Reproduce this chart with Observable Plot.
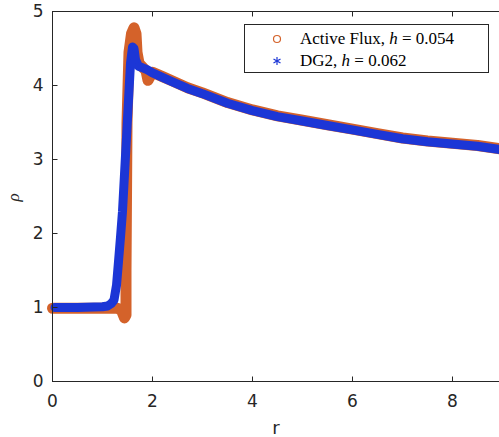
<!DOCTYPE html>
<html><head><meta charset="utf-8">
<script src="https://cdn.jsdelivr.net/npm/d3@7"></script>
<script src="https://cdn.jsdelivr.net/npm/@observablehq/plot@0.6"></script>
<style>
html,body{margin:0;padding:0;overflow:hidden;background:#fff;}
#wrap{position:relative;width:499px;height:437px;overflow:hidden;}
#legend{position:absolute;left:244px;top:24px;width:243px;height:47px;border:1px solid #262626;background:#fff;font-family:"Liberation Serif","DejaVu Serif",serif;font-size:17px;color:#000;}
.row{position:absolute;left:0;height:20px;display:flex;align-items:center;white-space:nowrap;}
.row svg{margin-left:27px;margin-right:18px;}
</style></head><body><div id="wrap"><div id="chart"></div><div id="legend"></div></div>
<script>
const xTicks = [0, 2, 4, 6, 8];
const yTicks = [0, 1, 2, 3, 4, 5];

// Active Flux, h = 0.054
const afR   = [0, 0.5, 1.0, 1.3, 1.38, 1.44, 1.47, 1.47, 1.49, 1.53, 1.58, 1.63, 1.67, 1.69, 1.73, 1.8, 1.87, 1.91, 1.95, 2.0, 2.2, 2.4, 2.7, 3.0, 3.5, 4.0, 4.5, 5.0, 5.5, 6.0, 6.5, 7.0, 7.5, 8.0, 8.5, 9.0];
const afRho = [0.99, 0.99, 0.99, 0.99, 0.96, 0.86, 0.9, 1.5, 3.5, 4.45, 4.7, 4.78, 4.7, 4.45, 4.3, 4.25, 4.2, 4.07, 4.12, 4.18, 4.12, 4.06, 3.97, 3.9, 3.77, 3.67, 3.59, 3.53, 3.47, 3.41, 3.35, 3.29, 3.25, 3.22, 3.19, 3.14];

// DG2, h = 0.062
const dgR   = [0.05, 0.5, 1.0, 1.1, 1.17, 1.23, 1.28, 1.32, 1.36, 1.4, 1.44, 1.48, 1.52, 1.56, 1.6, 1.63, 1.66, 1.72, 1.8, 1.9, 2.0, 2.2, 2.4, 2.7, 3.0, 3.5, 4.0, 4.5, 5.0, 5.5, 6.0, 6.5, 7.0, 7.5, 8.0, 8.5, 9.0];
const dgRho = [1, 1, 1.01, 1.02, 1.05, 1.1, 1.3, 1.62, 1.95, 2.3, 2.8, 3.3, 3.8, 4.3, 4.52, 4.5, 4.35, 4.26, 4.24, 4.21, 4.17, 4.11, 4.05, 3.96, 3.89, 3.76, 3.66, 3.58, 3.52, 3.46, 3.4, 3.34, 3.28, 3.24, 3.21, 3.18, 3.13];

const orange = "#d4622a";
const blue = "#1c36d6";
const ink = "#262626";

const af = afR.map((r, i) => ({r, rho: afRho[i]}));
const dg = dgR.map((r, i) => ({r, rho: dgRho[i]}));

const plot = Plot.plot({
  width: 499, height: 437,
  marginLeft: 52, marginTop: 11, marginBottom: 56, marginRight: 0,
  x: {domain: [0, 9], range: [52, 502]},
  y: {domain: [0, 5]},
  style: {fontFamily: "DejaVu Sans", fontSize: "17px", color: ink, background: "transparent"},
  marks: [
    Plot.line(af, {x: "r", y: "rho", stroke: orange, strokeWidth: 11, strokeLinejoin: "round", strokeLinecap: "round"}),
    Plot.dot(af, {x: "r", y: "rho", r: 3.5, stroke: orange, fill: "none", strokeWidth: 1}),
    Plot.line(dg, {x: "r", y: "rho", stroke: blue, strokeWidth: 9, strokeLinejoin: "round", strokeLinecap: "round"}),
    Plot.dot(dg, {x: "r", y: "rho", r: 3.5, symbol: "asterisk", stroke: blue, strokeWidth: 1}),
    Plot.ruleX([0], {stroke: ink}),
    Plot.ruleY([0, 5], {stroke: ink}),
    Plot.axisX({ticks: xTicks, tickFormat: d3.format("d"), tickSize: 0, tickPadding: 13, label: null, fontSize: 17}),
    Plot.axisY({ticks: yTicks, tickFormat: d3.format("d"), tickSize: 0, tickPadding: 9, label: null, fontSize: 17}),
    Plot.text(["r"], {frameAnchor: "bottom", lineAnchor: "middle", dy: 47, fontSize: 18, fill: ink}),
    Plot.text(["ρ"], {frameAnchor: "left", textAnchor: "middle", lineAnchor: "middle", dx: -39, dy: 1, rotate: -90, fontSize: 17, fontStyle: "italic", fontFamily: "Liberation Serif", fill: ink})
  ]
});
document.getElementById("chart").appendChild(plot);

// inward (MATLAB-style) tick marks, placed with the plot's own scales
const sx = plot.scale("x"), sy = plot.scale("y");
const g = d3.select(plot).append("g").attr("stroke", ink).attr("stroke-width", 1).attr("transform", "translate(0.5,0.5)");
const y0 = sy.apply(0), y5 = sy.apply(5), x0 = sx.apply(0);
xTicks.forEach(t => {
  const px = sx.apply(t);
  g.append("line").attr("x1", px).attr("x2", px).attr("y1", y0).attr("y2", y0 - 5);
  g.append("line").attr("x1", px).attr("x2", px).attr("y1", y5).attr("y2", y5 + 5);
});
yTicks.forEach(t => {
  const py = sy.apply(t);
  g.append("line").attr("x1", x0).attr("x2", x0 + 5).attr("y1", py).attr("y2", py);
});

const legend = document.getElementById("legend");
legend.innerHTML = `
<div class="row" style="top:4px"><svg width="10" height="10"><circle cx="5" cy="5" r="3.5" fill="none" stroke="${orange}" stroke-width="1.2"/></svg><span>Active Flux, <i>h</i> = 0.054</span></div>
<div class="row" style="top:26px"><svg width="10" height="10"><g stroke="${blue}" stroke-width="1.2"><line x1="5" y1="1" x2="5" y2="9"/><line x1="1.5" y1="3" x2="8.5" y2="7"/><line x1="1.5" y1="7" x2="8.5" y2="3"/></g></svg><span>DG2, <i>h</i> = 0.062</span></div>`;
</script></body></html>
